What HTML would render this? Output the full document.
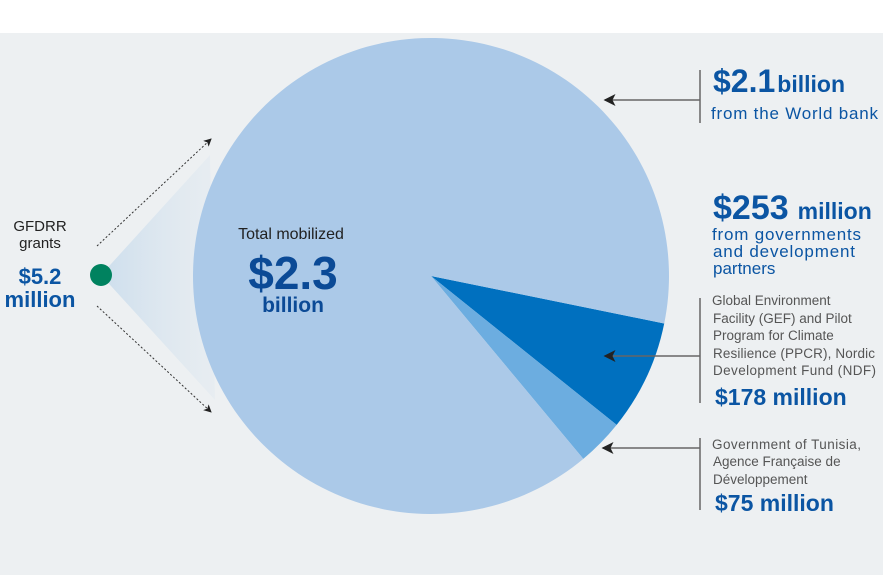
<!DOCTYPE html>
<html><head><meta charset="utf-8"><style>
body{margin:0;width:883px;height:575px;overflow:hidden;background:#fff;font-family:"Liberation Sans",sans-serif}
</style></head><body>
<svg width="883" height="575" font-family="Liberation Sans, sans-serif">
<defs>
<linearGradient id="cone" x1="0" x2="1" y1="0" y2="0"><stop offset="0" stop-color="#c9dcec" stop-opacity="0.9"/><stop offset="1" stop-color="#dfe8f0" stop-opacity="0.4"/></linearGradient>
<marker id="ah" markerWidth="8" markerHeight="8" refX="7" refY="4" orient="auto"><path d="M0,0 L8,4 L0,8 L2,4Z" fill="#222"/></marker>
</defs>
<rect x="0" y="33" width="883" height="542" fill="#edf0f2"/>
<polygon points="101,275 210,155 215,400" fill="url(#cone)"/>
<line x1="97" y1="246" x2="211" y2="139" stroke="#333" stroke-dasharray="2,2" marker-end="url(#ah)"/>
<line x1="97" y1="306" x2="211" y2="412" stroke="#333" stroke-dasharray="2,2" marker-end="url(#ah)"/>
<g id="pie"></g>
<circle cx="101" cy="275" r="11" fill="#00825f"/>
<g fill="#222" font-size="15" text-anchor="middle">
<text x="40" y="231">GFDRR</text><text x="40" y="248">grants</text>
<text x="40" y="284" font-size="22" font-weight="bold" fill="#0b55a3">$5.2</text>
<text x="40" y="307" font-size="22" font-weight="bold" fill="#0b55a3">million</text>
</g>
<g text-anchor="middle">
<text x="291" y="239" font-size="16" fill="#222">Total mobilized</text>
<text x="293" y="289" font-size="46" font-weight="bold" fill="#0b4a96">$2.3</text>
<text x="293" y="312" font-size="21" font-weight="bold" fill="#0b4a96">billion</text>
</g>
<g stroke="#666" stroke-width="1.5">
<line x1="700" y1="70" x2="700" y2="123"/><line x1="700" y1="100" x2="605" y2="100" marker-end="url(#ah)"/>
<line x1="700" y1="298" x2="700" y2="403"/><line x1="700" y1="356" x2="605" y2="356" marker-end="url(#ah)"/>
<line x1="700" y1="438" x2="700" y2="510"/><line x1="700" y1="448" x2="603" y2="448" marker-end="url(#ah)"/>
</g>
<g fill="#0b55a3">
<text x="713" y="92" font-size="32" font-weight="bold">$2.1<tspan font-size="23" dx="2">billion</tspan></text>
<text x="711" y="119" font-size="17" textLength="167">from the World bank</text>
</g>
<g fill="#0b55a3">
<text x="713" y="219" font-size="34" font-weight="bold">$253<tspan font-size="23" dx="9">million</tspan></text>
<text x="712" y="240" font-size="17" textLength="149">from governments</text>
<text x="713" y="257" font-size="17" textLength="142">and development</text>
<text x="713" y="274" font-size="17">partners</text>
</g>
<g fill="#555" font-size="13.5">
<text x="712" y="305">Global Environment</text><text x="713" y="323">Facility (GEF) and Pilot</text>
<text x="713" y="340">Program for Climate</text><text x="713" y="358" textLength="162">Resilience (PPCR), Nordic</text>
<text x="713" y="375" textLength="163">Development Fund (NDF)</text>
<text x="715" y="405" font-size="23" font-weight="bold" fill="#0b55a3">$178 million</text>
</g>
<g fill="#555" font-size="13.5">
<text x="712" y="449" textLength="149">Government of Tunisia,</text><text x="713" y="466">Agence Française de</text>
<text x="713" y="484">Développement</text>
<text x="715" y="511" font-size="23" font-weight="bold" fill="#0b55a3">$75 million</text>
</g>
</svg>
<script>
const categories=["GEF, PPCR, NDF","Tunisia, AFD","World Bank"];
const values=[178,75,2100];
const colors=["#0070bf","#6cade0","#abc9e8"];
const cx=431,cy=276,r=238,start=11.5*Math.PI/180;
const g=document.getElementById('pie');
const total=values.reduce((a,b)=>a+b,0);
let a=start;
values.forEach((v,i)=>{
  const a2=a+v/total*2*Math.PI;
  const x1=cx+r*Math.cos(a),y1=cy+r*Math.sin(a),x2=cx+r*Math.cos(a2),y2=cy+r*Math.sin(a2);
  const p=document.createElementNS('http://www.w3.org/2000/svg','path');
  p.setAttribute('d',`M${cx},${cy}L${x1},${y1}A${r},${r} 0 ${a2-a>Math.PI?1:0} 1 ${x2},${y2}Z`);
  p.setAttribute('fill',colors[i]);
  
  
  g.appendChild(p);
  a=a2;
});
</script>
</body></html>
